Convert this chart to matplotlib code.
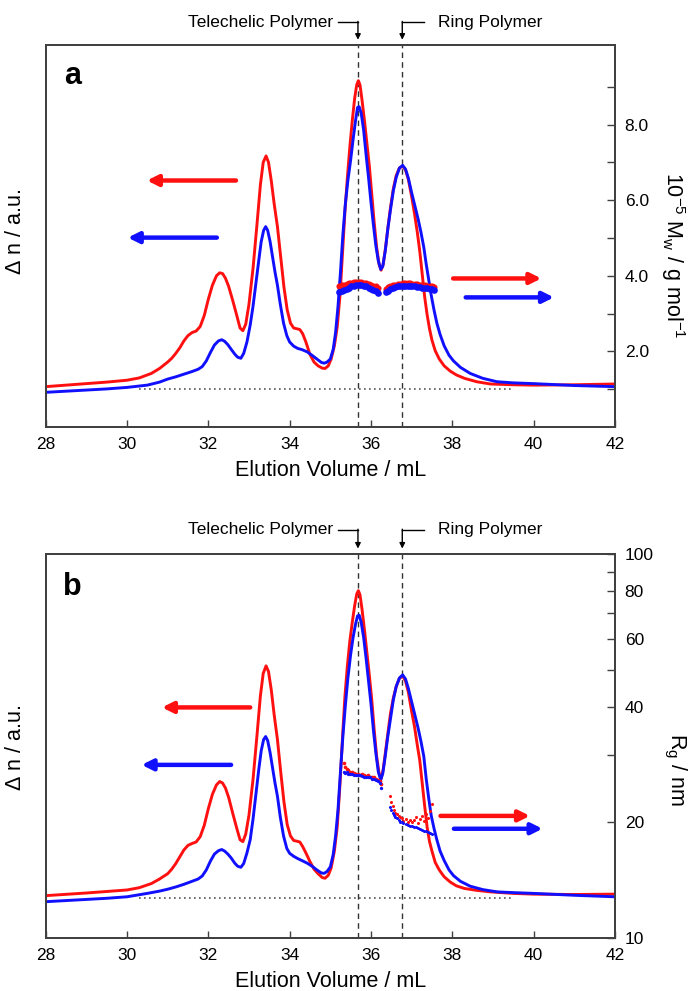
import matplotlib
matplotlib.use("Agg")
import matplotlib.pyplot as plt
from matplotlib.ticker import FixedLocator, NullFormatter, FixedFormatter

plt.rcParams['font.family'] = ['Liberation Sans', 'DejaVu Sans']
plt.rcParams['mathtext.fontset'] = 'custom'
plt.rcParams['mathtext.rm'] = 'Liberation Sans'
plt.rcParams['mathtext.it'] = 'Liberation Sans:italic'
plt.rcParams['mathtext.default'] = 'regular'

# ---------------- data ----------------
# refractive index traces, red sample (x shared by panel a and b)
x_red = [28.0, 29.0, 29.5, 30.0, 30.3, 30.6, 30.8, 31.0, 31.1, 31.2, 31.3, 31.4, 31.5, 31.6,
         31.7, 31.8, 31.9, 32.0, 32.1, 32.2, 32.28, 32.35, 32.42, 32.5, 32.6, 32.7, 32.78,
         32.85, 32.92, 33.0, 33.1, 33.2, 33.28, 33.35, 33.42, 33.48, 33.55, 33.62, 33.7, 33.78,
         33.86, 33.94, 34.02, 34.1, 34.18, 34.25, 34.32, 34.4, 34.5, 34.6, 34.7, 34.8, 34.87,
         34.95, 35.02, 35.1, 35.17, 35.24, 35.3, 35.36, 35.42, 35.48, 35.54, 35.6, 35.65, 35.69,
         35.73, 35.78, 35.84, 35.9, 35.96, 36.02, 36.08, 36.14, 36.2, 36.25, 36.3, 36.36, 36.42,
         36.48, 36.55, 36.62, 36.7, 36.78, 36.85, 36.92, 37.0, 37.07, 37.14, 37.2, 37.26, 37.32,
         37.38, 37.44, 37.5, 37.58, 37.68, 37.8, 37.95, 38.1, 38.3, 38.6, 38.94, 39.5, 40.0,
         41.0, 42.0]
ya_red = [1.07, 1.15, 1.19, 1.24, 1.3, 1.42, 1.55, 1.72, 1.82, 1.95, 2.1, 2.28, 2.42, 2.5,
          2.54, 2.66, 2.95, 3.38, 3.75, 4.0, 4.08, 4.06, 3.94, 3.72, 3.35, 2.95, 2.62,
          2.55, 2.72, 3.25, 4.2, 5.4, 6.4, 7.0, 7.17, 7.0, 6.5, 5.9, 5.3, 4.5,
          3.7, 3.1, 2.75, 2.62, 2.6, 2.58, 2.47, 2.25, 1.92, 1.72, 1.62, 1.56, 1.55,
          1.62, 1.8, 2.15, 2.65, 3.5, 4.6, 5.7, 6.6, 7.4, 8.1, 8.7, 9.05, 9.16,
          9.05, 8.65, 8.1, 7.5, 6.9, 6.15, 5.4, 4.75, 4.3, 4.15, 4.3, 4.75, 5.3,
          5.8, 6.3, 6.65, 6.85, 6.9, 6.8, 6.55, 6.1, 5.65, 5.15, 4.65, 4.05, 3.45,
          2.98, 2.6, 2.3, 2.02, 1.8, 1.62, 1.48, 1.38, 1.29, 1.2, 1.14, 1.12, 1.11,
          1.12, 1.14]
yb_red = [1.12, 1.19, 1.23, 1.27, 1.33, 1.44, 1.56, 1.7, 1.82, 1.97, 2.15, 2.33, 2.45, 2.5,
          2.54, 2.68, 2.98, 3.42, 3.8, 4.05, 4.14, 4.1, 3.97, 3.72, 3.3, 2.9, 2.6,
          2.55, 2.75, 3.25, 4.2, 5.4, 6.4, 7.0, 7.2, 7.05, 6.55, 5.9, 5.25, 4.4,
          3.6, 3.0, 2.7, 2.58, 2.56, 2.54, 2.42, 2.25, 2.02, 1.82, 1.7, 1.6, 1.58,
          1.66, 1.85, 2.3, 2.94, 4.1, 5.3, 6.4, 7.2, 7.85, 8.35, 8.8, 9.1, 9.19,
          9.08, 8.7, 8.15, 7.55, 6.95, 6.3, 5.5, 4.8, 4.35, 4.22, 4.45, 4.95, 5.45,
          5.94, 6.35, 6.65, 6.87, 6.93, 6.8, 6.5, 6.0, 5.6, 5.1, 4.7, 4.1, 3.5,
          2.94, 2.55, 2.3, 2.0, 1.8, 1.62, 1.48, 1.38, 1.31, 1.26, 1.22, 1.18, 1.16,
          1.15, 1.16]

# refractive index traces, blue sample
x_blue = [28.0, 29.0, 29.5, 30.0, 30.5, 30.8, 31.0, 31.2, 31.4, 31.6, 31.75, 31.85, 31.95,
          32.05, 32.15, 32.25, 32.33, 32.4, 32.48, 32.56, 32.65, 32.72, 32.8, 32.87, 32.95,
          33.03, 33.1, 33.17, 33.24, 33.3, 33.36, 33.41, 33.46, 33.52, 33.58, 33.64, 33.7,
          33.77, 33.85, 33.93, 34.0, 34.1, 34.2, 34.3, 34.43, 34.55, 34.67, 34.78, 34.85,
          34.92, 35.0, 35.07, 35.13, 35.19, 35.25, 35.31, 35.37, 35.43, 35.5, 35.56, 35.62,
          35.67, 35.71, 35.76, 35.82, 35.88, 35.94, 36.0, 36.06, 36.12, 36.18, 36.24, 36.29,
          36.35, 36.41, 36.48, 36.55, 36.62, 36.7, 36.78, 36.85, 36.92, 37.0, 37.08, 37.16,
          37.23, 37.3, 37.36, 37.42, 37.48, 37.55, 37.62, 37.7, 37.8, 37.92, 38.03, 38.2,
          38.44, 38.75, 39.1, 39.5, 40.0, 41.0, 42.0]
ya_blue = [0.92, 0.98, 1.01, 1.05, 1.11, 1.19, 1.27, 1.33, 1.4, 1.47, 1.53, 1.6, 1.75,
           1.97, 2.17, 2.28, 2.31, 2.27, 2.18, 2.06, 1.93, 1.85, 1.82, 1.95, 2.25,
           2.7, 3.2, 3.8, 4.4, 4.9, 5.2, 5.3, 5.2, 4.9, 4.5, 4.1, 3.75,
           3.25, 2.75, 2.42, 2.25, 2.14, 2.08, 2.05, 1.99, 1.9, 1.8, 1.71, 1.69,
           1.72, 1.8, 2.05, 2.5, 3.2, 4.1, 5.1, 5.9, 6.5, 7.06, 7.6, 8.1,
           8.45, 8.47, 8.3, 7.85, 7.2, 6.6, 5.95, 5.35, 4.8, 4.4, 4.17, 4.25,
           4.65, 5.2, 5.75, 6.25, 6.6, 6.85, 6.92, 6.82, 6.58, 6.2, 5.85, 5.5,
           5.15, 4.75, 4.3, 3.9, 3.5, 3.1, 2.75, 2.45, 2.15, 1.9, 1.75, 1.58,
           1.42, 1.29, 1.2, 1.17, 1.15, 1.1, 1.07]
yb_blue = [0.96, 1.02, 1.05, 1.09, 1.18, 1.24, 1.29, 1.35, 1.42, 1.5, 1.56, 1.64, 1.8,
           2.03, 2.22, 2.31, 2.34, 2.3, 2.22, 2.12, 1.98, 1.9, 1.87, 1.97, 2.25,
           2.6, 3.15, 3.8, 4.45, 4.95, 5.25, 5.33, 5.22, 4.9, 4.5, 4.1, 3.75,
           3.2, 2.7, 2.37, 2.24, 2.16, 2.1, 2.05, 1.98, 1.9, 1.8, 1.72, 1.71,
           1.76, 1.88, 2.2, 2.7, 3.4, 4.4, 5.35, 6.15, 6.85, 7.5, 7.95, 8.3,
           8.52, 8.54, 8.35, 7.95, 7.4, 6.8, 6.2, 5.5, 4.9, 4.4, 4.18, 4.35,
           4.8, 5.3, 5.8, 6.3, 6.65, 6.88, 6.96, 6.85, 6.6, 6.25, 5.9, 5.55,
           5.2, 4.8, 4.2, 3.7, 3.25, 2.9, 2.6, 2.3, 2.05, 1.8, 1.65, 1.5,
           1.37, 1.28, 1.22, 1.2, 1.18, 1.13, 1.09]

# panel a: Mw (10^-5 g/mol)
mw_x1 = [35.22, 35.28, 35.34, 35.40, 35.46, 35.52, 35.58, 35.64, 35.70, 35.76, 35.82, 35.88,
         35.94, 36.00, 36.06, 36.12, 36.18]
mw_red1 = [3.72, 3.75, 3.77, 3.79, 3.81, 3.82, 3.83, 3.84, 3.84, 3.83, 3.82, 3.80,
           3.78, 3.76, 3.74, 3.72, 3.68]
mw_blue1 = [3.56, 3.60, 3.63, 3.66, 3.69, 3.72, 3.74, 3.75, 3.76, 3.75, 3.74, 3.72,
            3.69, 3.66, 3.63, 3.59, 3.55]
mw_x2 = [36.36, 36.42, 36.48, 36.54, 36.60, 36.66, 36.72, 36.78, 36.84, 36.90, 36.96, 37.02,
         37.08, 37.14, 37.20, 37.26, 37.32, 37.38, 37.44, 37.50, 37.56]
mw_red2 = [3.66, 3.70, 3.73, 3.75, 3.77, 3.78, 3.79, 3.80, 3.80, 3.80, 3.80, 3.79,
           3.79, 3.78, 3.77, 3.76, 3.75, 3.74, 3.73, 3.72, 3.70]
mw_blue2 = [3.56, 3.61, 3.65, 3.68, 3.70, 3.72, 3.73, 3.74, 3.74, 3.74, 3.74, 3.73,
            3.72, 3.71, 3.70, 3.69, 3.68, 3.67, 3.66, 3.65, 3.63]

# panel b: Rg (nm)
rg_x1 = [35.33, 35.36, 35.40, 35.44, 35.48, 35.53, 35.58, 35.63, 35.68, 35.73, 35.78, 35.83,
         35.88, 35.93, 35.98, 36.03, 36.08, 36.13, 36.18, 36.22, 36.25]
rg_red1 = [28.6, 27.9, 27.6, 27.4, 27.1, 27.0, 26.9, 26.8, 26.7, 26.6, 26.7, 26.5,
           26.4, 26.5, 26.3, 26.2, 26.3, 26.0, 25.8, 25.6, 25.2]
rg_blue1 = [27.0, 26.9, 27.0, 26.8, 26.8, 26.7, 26.6, 26.6, 26.5, 26.5, 26.4, 26.3,
            26.3, 26.2, 26.2, 26.0, 25.9, 25.8, 25.6, 25.3, 24.6]
rg_x2 = [36.48, 36.50, 36.53, 36.56, 36.60, 36.64, 36.68, 36.72, 36.76, 36.80, 36.85, 36.90,
         36.95, 37.00, 37.05, 37.10, 37.15, 37.20, 37.25, 37.30, 37.35, 37.40, 37.45, 37.50]
rg_red2 = [23.4, 22.6, 22.0, 21.5, 21.2, 21.0, 20.8, 20.6, 20.5, 20.2, 20.4, 20.1,
           20.3, 20.0, 20.3, 20.6, 19.9, 20.4, 20.8, 20.2, 21.0, 20.5, 21.4, 22.3]
rg_blue2 = [21.9, 21.5, 21.2, 20.9, 20.7, 20.5, 20.3, 20.1, 20.0, 19.9, 19.8, 19.7,
            19.6, 19.6, 19.5, 19.4, 19.3, 19.2, 19.1, 19.0, 19.0, 18.9, 18.8, 18.6]

telechelic_x = 35.68
ring_x = 36.77
xticks = [28, 30, 32, 34, 36, 38, 40, 42]

RED = '#ff1010'
BLUE = '#1010ff'
FRAME = '#404040'

fig = plt.figure(figsize=(6.9, 9.91), dpi=100)
ax_a = fig.add_axes([0.0662, 0.569, 0.825, 0.3855])
ax_b = fig.add_axes([0.0662, 0.0535, 0.825, 0.3875])


def frame(ax, ylim):
    ax.set_xlim(28, 42)
    ax.set_ylim(*ylim)
    ax.set_xticks(xticks)
    ax.set_yticks([])
    ax.tick_params(axis='x', direction='in', length=5, width=1, labelsize=12.5,
                   pad=7, color=FRAME, top=False)
    for s in ax.spines.values():
        s.set_color(FRAME)
        s.set_linewidth(1.3)
    ax.set_xlabel('Elution Volume / mL', fontsize=15.5, labelpad=6)


def markers(ax, ytext):
    trans = ax.get_xaxis_transform()
    for x in (telechelic_x, ring_x):
        ax.axvline(x, color='#333333', lw=1.0, dashes=(4, 3), zorder=1)
    ax.plot([35.2, telechelic_x], [ytext, ytext], color='k', lw=1.0,
            transform=trans, clip_on=False)
    ax.plot([ring_x, 37.3], [ytext, ytext], color='k', lw=1.0,
            transform=trans, clip_on=False)
    for x in (telechelic_x, ring_x):
        ax.annotate('', xy=(x, 1.014), xycoords=trans, xytext=(x, ytext + 0.002),
                    textcoords=trans,
                    arrowprops=dict(arrowstyle='-|>', color='k', lw=1.0,
                                    mutation_scale=8, shrinkA=0, shrinkB=0))
    ax.text(35.08, ytext, 'Telechelic Polymer', transform=trans, ha='right',
            va='center', fontsize=12.5)
    ax.text(37.66, ytext, 'Ring Polymer', transform=trans, ha='left',
            va='center', fontsize=12.5)


def arrow(ax, x0, x1, y, color):
    ax.annotate('', xy=(x1, y), xytext=(x0, y),
                arrowprops=dict(arrowstyle='-|>', color=color, lw=3.2,
                                mutation_scale=16, shrinkA=0, shrinkB=0))


def right_spines(ax):
    for s in ax.spines.values():
        s.set_color(FRAME)
        s.set_linewidth(1.3)


# ---------------- panel a ----------------
frame(ax_a, (0, 10.1))
markers(ax_a, 1.060)
ax_a.plot([30.3, 39.5], [1.02, 1.02], color='#555555', lw=1.2, ls=(0, (1, 2)))
ax_a.plot(x_red, ya_red, color=RED, lw=2.1, zorder=3, solid_joinstyle='round')
ax_a.plot(x_blue, ya_blue, color=BLUE, lw=2.1, zorder=4, solid_joinstyle='round')
arrow(ax_a, 32.68, 30.49, 6.52, RED)
arrow(ax_a, 32.21, 30.02, 5.01, BLUE)
arrow(ax_a, 38.02, 40.19, 3.93, RED)
arrow(ax_a, 38.33, 40.50, 3.43, BLUE)

ra = ax_a.twinx()
ra.set_ylim(0, 10.1)
ra.plot(mw_x1, mw_red1, 'o', color=RED, ms=4.4, mec='none', zorder=5)
ra.plot(mw_x2, mw_red2, 'o', color=RED, ms=4.4, mec='none', zorder=5)
ra.plot(mw_x1, mw_blue1, 'o', color=BLUE, ms=4.8, mec='none', zorder=6)
ra.plot(mw_x2, mw_blue2, 'o', color=BLUE, ms=4.8, mec='none', zorder=6)
ra.yaxis.set_major_locator(FixedLocator([2, 4, 6, 8]))
ra.yaxis.set_major_formatter(FixedFormatter(['2.0', '4.0', '6.0', '8.0']))
ra.yaxis.set_minor_locator(FixedLocator([1, 3, 5, 7, 9]))
ra.tick_params(axis='y', which='both', direction='in', length=6, width=1,
               labelsize=12.5, pad=7, color=FRAME)
right_spines(ra)

# ---------------- panel b ----------------
frame(ax_b, (0, 10.16))
markers(ax_b, 1.0625)
ax_b.plot([30.3, 39.45], [1.05, 1.05], color='#555555', lw=1.2, ls=(0, (1, 2)))
ax_b.plot(x_red, yb_red, color=RED, lw=2.1, zorder=3, solid_joinstyle='round')
ax_b.plot(x_blue, yb_blue, color=BLUE, lw=2.1, zorder=4, solid_joinstyle='round')
arrow(ax_b, 33.03, 30.86, 6.10, RED)
arrow(ax_b, 32.56, 30.36, 4.58, BLUE)
arrow(ax_b, 37.71, 39.91, 3.23, RED)
arrow(ax_b, 38.04, 40.22, 2.89, BLUE)

rb = ax_b.twinx()
rb.set_yscale('log')
rb.set_ylim(10, 100)
rb.plot(rg_x1, rg_red1, 'o', color=RED, ms=2.6, mec='none', zorder=5)
rb.plot(rg_x2, rg_red2, 'o', color=RED, ms=2.2, mec='none', zorder=5)
rb.plot(rg_x1, rg_blue1, 'o', color=BLUE, ms=2.4, mec='none', zorder=6)
rb.plot(rg_x2, rg_blue2, 'o', color=BLUE, ms=2.2, mec='none', zorder=6)
rb.yaxis.set_major_locator(FixedLocator([10, 20, 40, 60, 80, 100]))
rb.yaxis.set_major_formatter(FixedFormatter(['10', '20', '40', '60', '80', '100']))
rb.yaxis.set_minor_locator(FixedLocator([30, 50, 70, 90]))
rb.yaxis.set_minor_formatter(NullFormatter())
rb.tick_params(axis='y', which='both', direction='in', length=6, width=1,
               labelsize=12.5, pad=7, color=FRAME)
right_spines(rb)

# ---------------- labels ----------------
fig.text(0.105, 0.923, 'a', fontsize=22, fontweight='bold', ha='center', va='center')
fig.text(0.105, 0.408, 'b', fontsize=22, fontweight='bold', ha='center', va='center')
fig.text(0.022, 1 - 232 / 991, r'$\Delta$ n / a.u.', rotation=90, fontsize=15.5,
         ha='center', va='center')
fig.text(0.022, 1 - 748 / 991, r'$\Delta$ n / a.u.', rotation=90, fontsize=15.5,
         ha='center', va='center')
fig.text(0.975, 1 - 255 / 991, r'10$^{-5}$ M$_w$ / g mol$^{-1}$', rotation=270,
         fontsize=15.5, ha='center', va='center')
fig.text(0.978, 1 - 770 / 991, r'R$_g$ / nm', rotation=270, fontsize=15.5,
         ha='center', va='center')

fig.savefig('out.png', dpi=100)
